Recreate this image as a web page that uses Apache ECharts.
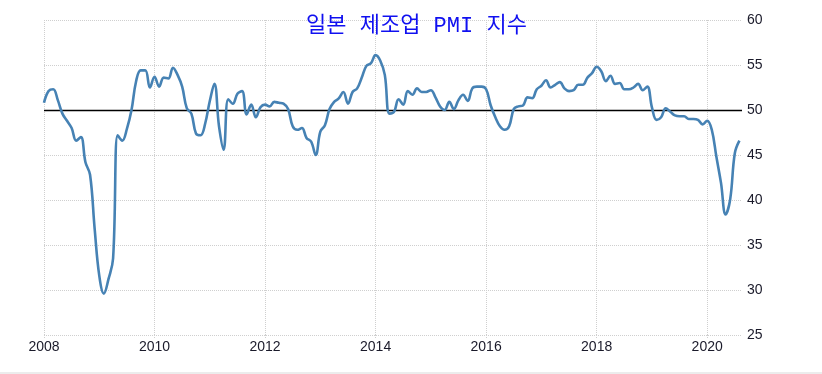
<!DOCTYPE html>
<html>
<head>
<meta charset="utf-8">
<script src="https://cdn.jsdelivr.net/npm/echarts@6/dist/echarts.min.js"></script>
<style>
html,body{margin:0;padding:0;background:#fff;}
#chart{width:822px;height:374px;}
</style>
</head>
<body>
<div id="chart"></div>
<script>
// Monthly Japan manufacturing PMI, Jan 2008 .. Aug 2020
const startYear = 2008;
const pmi2008 = [50.8, 52.1, 52.3, 51.1, 49.6, 48.8, 48.0, 46.6, 47.0, 44.2, 42.8, 36.8];
const pmi2009 = [31.6, 29.6, 31.2, 33.5, 47.2, 46.6, 47.9, 50.0, 53.2, 54.4, 54.4, 52.5];
const pmi2010 = [53.7, 52.6, 53.6, 53.5, 54.7, 53.9, 52.6, 50.2, 49.6, 47.4, 47.2, 48.5];
const pmi2011 = [51.0, 52.9, 48.2, 45.6, 51.2, 50.7, 51.8, 52.1, 49.5, 50.6, 49.2, 50.3];
const pmi2012 = [50.6, 50.4, 50.9, 50.8, 50.7, 50.1, 48.2, 47.8, 48.0, 46.9, 46.5, 45.0];
const pmi2013 = [47.6, 48.3, 50.1, 50.9, 51.3, 52.0, 50.7, 52.0, 52.4, 53.6, 54.9, 55.2];
const pmi2014 = [56.1, 55.5, 53.9, 49.6, 49.8, 51.2, 50.6, 52.1, 51.7, 52.4, 52.0, 52.0];
const pmi2015 = [52.2, 51.4, 50.4, 50.0, 50.9, 50.1, 51.1, 51.7, 51.0, 52.4, 52.6, 52.6];
const pmi2016 = [52.3, 50.5, 49.2, 48.2, 47.8, 48.2, 50.1, 50.4, 50.5, 51.4, 51.3, 52.3];
const pmi2017 = [52.7, 53.3, 52.5, 52.8, 53.1, 52.4, 52.1, 52.2, 52.8, 52.8, 53.6, 54.1];
const pmi2018 = [54.8, 54.3, 53.2, 53.8, 52.9, 53.0, 52.3, 52.3, 52.5, 52.9, 52.2, 52.6];
const pmi2019 = [50.3, 48.9, 49.2, 50.2, 49.8, 49.4, 49.3, 49.3, 49.0, 49.0, 48.9, 48.4];
const pmi2020 = [48.8, 47.8, 44.8, 41.9, 38.4, 40.1, 45.2, 46.6];

const xTickYears = [2008, 2010, 2012, 2014, 2016, 2018, 2020];
const yTicks = [25, 30, 35, 40, 45, 50, 55, 60];
const referenceLevel = 50;
const titleText = '일본 제조업 PMI 지수';

const values = [].concat(pmi2008, pmi2009, pmi2010, pmi2011, pmi2012, pmi2013,
  pmi2014, pmi2015, pmi2016, pmi2017, pmi2018, pmi2019, pmi2020);
const seriesData = values.map((v, i) => [startYear + i / 12, v]);

const labelFont = "'Liberation Sans Narrow', 'Arial Narrow', 'Liberation Sans', sans-serif";
const gridColor = '#cfcfcf';

const chart = echarts.init(document.getElementById('chart'), null, {renderer: 'canvas'});
chart.setOption({
  animation: false,
  backgroundColor: '#ffffff',
  title: {
    text: titleText,
    left: 301,
    top: 10,
    textStyle: {
      color: '#1010f0',
      fontSize: 22,
      fontWeight: 'normal',
      fontFamily: "'Liberation Mono', 'Noto Sans CJK KR', monospace"
    }
  },
  grid: {left: 44, right: 80, top: 20, bottom: 39},
  xAxis: {
    type: 'value',
    min: xTickYears[0],
    max: 2020.63,
    interval: 2,
    axisLine: {show: false},
    axisTick: {show: true, length: 4, lineStyle: {color: gridColor, type: 'dotted'}},
    splitLine: {show: false},
    axisLabel: {
      showMaxLabel: false,
      margin: 5,
      color: '#1a1a2a',
      fontSize: 14,
      fontFamily: labelFont,
      formatter: v => (xTickYears.indexOf(Math.round(v * 100) / 100) >= 0 ? String(v) : '')
    }
  },
  yAxis: {
    type: 'value',
    position: 'right',
    min: yTicks[0],
    max: yTicks[yTicks.length - 1],
    interval: 5,
    axisLine: {show: false},
    axisTick: {show: false},
    splitLine: {show: true, lineStyle: {color: gridColor, type: 'dotted', width: 1}},
    axisLabel: {margin: 5, color: '#1a1a2a', fontSize: 14, fontFamily: labelFont}
  },
  series: [{
    type: 'line',
    data: seriesData,
    smooth: 0.4,
    showSymbol: false,
    symbol: 'none',
    lineStyle: {color: '#4682b4', width: 2.6},
    z: 5,
    markLine: {
      silent: true,
      symbol: 'none',
      label: {show: false},
      data: xTickYears.map(y => ({xAxis: y, lineStyle: {color: gridColor, type: 'dotted', width: 1}}))
        .concat([{yAxis: referenceLevel, lineStyle: {color: '#000', type: 'solid', width: 1.3}}])
    }
  }],
  graphic: [{
    type: 'rect',
    shape: {x: 0, y: 372, width: 822, height: 2},
    style: {fill: '#ececec'},
    silent: true
  }]
});
</script>
</body>
</html>
